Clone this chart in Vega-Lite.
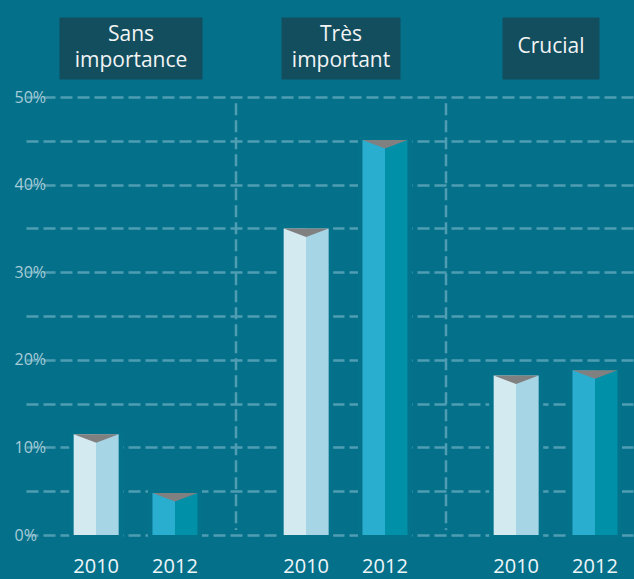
{
  "$schema": "https://vega.github.io/schema/vega-lite/v6.json",
  "width": 574,
  "height": 438,
  "autosize": {"type": "none"},
  "padding": {"left": 60, "top": 97, "right": 0, "bottom": 44},
  "background": "#05708a",
  "config": {"view": {"stroke": null}, "font": "Open Sans"},
  "data": {
    "values": [
      {"group": "Sans importance", "year": "2010", "value": 11.5},
      {"group": "Sans importance", "year": "2012", "value": 4.8},
      {"group": "Très important", "year": "2010", "value": 35.0},
      {"group": "Très important", "year": "2012", "value": 45.1},
      {"group": "Crucial", "year": "2010", "value": 18.2},
      {"group": "Crucial", "year": "2012", "value": 18.8}
    ]
  },
  "layer": [
    {
      "data": {"values": [{"group": "Très important"}, {"group": "Crucial"}]},
      "mark": {"type": "rule", "color": "#4f9db2", "strokeWidth": 2.5, "strokeDash": [12, 5]},
      "encoding": {
        "x": {"field": "group", "type": "nominal", "bandPosition": 0, "axis": null,
          "scale": {"domain": ["Sans importance", "Très important", "Crucial"], "range": [-34, 596], "paddingInner": 0, "paddingOuter": 0}},
        "y": {"datum": 49.3, "type": "quantitative"},
        "y2": {"datum": 0.57}
      }
    },
    {
      "mark": {"type": "bar", "fill": "#04728b", "stroke": "#04728b", "strokeWidth": 9},
      "encoding": {
        "x": {"field": "group", "type": "nominal", "axis": null},
        "xOffset": {"field": "year", "type": "nominal",
          "scale": {"domain": ["2010", "2012"], "paddingInner": 0.429, "paddingOuter": 0.547, "align": 0.553}},
        "y": {"field": "value", "type": "quantitative", "title": null,
          "scale": {"domain": [0, 50], "nice": false},
          "axis": {
            "values": [0, 5, 10, 15, 20, 25, 30, 35, 40, 45, 50],
            "labelExpr": "datum.value % 10 === 0 ? datum.value + '%' : ''",
            "grid": true, "gridColor": "#4f9db2", "gridWidth": 2.5, "gridDash": [12, 5],
            "domain": false, "ticks": false, "tickSize": 0,
            "labelAlign": "left", "labelPadding": 46, "labelFontSize": 16,
            "labelColor": "#a7cdd8", "labelFont": "Open Sans", "title": null
          }}
      }
    },
    {
      "transform": [{"filter": "datum.year === '2010'"}],
      "mark": {"type": "bar", "fill": {"gradient": "linear", "x1": 0, "x2": 1, "y1": 0, "y2": 0,
        "stops": [{"offset": 0, "color": "#d4eaf1"}, {"offset": 0.5, "color": "#d4eaf1"}, {"offset": 0.5, "color": "#a6d5e5"}, {"offset": 1, "color": "#a6d5e5"}]}},
      "encoding": {
        "x": {"field": "group", "type": "nominal", "axis": null},
        "xOffset": {"field": "year", "type": "nominal"},
        "y": {"field": "value", "type": "quantitative", "title": null}
      }
    },
    {
      "transform": [{"filter": "datum.year === '2012'"}],
      "mark": {"type": "bar", "fill": {"gradient": "linear", "x1": 0, "x2": 1, "y1": 0, "y2": 0,
        "stops": [{"offset": 0, "color": "#2aaed0"}, {"offset": 0.5, "color": "#2aaed0"}, {"offset": 0.5, "color": "#0090a8"}, {"offset": 1, "color": "#0090a8"}]}},
      "encoding": {
        "x": {"field": "group", "type": "nominal", "axis": null},
        "xOffset": {"field": "year", "type": "nominal"},
        "y": {"field": "value", "type": "quantitative", "title": null}
      }
    },
    {
      "mark": {"type": "point", "shape": "M -1 0 L 1 0 L 0 0.38 Z", "size": 2025, "filled": true, "fill": "#808080", "opacity": 1, "strokeWidth": 0},
      "encoding": {
        "x": {"field": "group", "type": "nominal", "axis": null},
        "xOffset": {"field": "year", "type": "nominal"},
        "y": {"field": "value", "type": "quantitative", "title": null}
      }
    },
    {
      "mark": {"type": "text", "fontSize": 20, "color": "#eef6f9", "baseline": "alphabetic", "align": "center", "font": "Open Sans"},
      "encoding": {
        "x": {"field": "group", "type": "nominal", "axis": null},
        "xOffset": {"field": "year", "type": "nominal"},
        "y": {"datum": -4.34, "type": "quantitative"},
        "text": {"field": "year", "type": "nominal"}
      }
    },
    {
      "data": {"values": [{"group": "Sans importance"}, {"group": "Très important"}, {"group": "Crucial"}]},
      "mark": {"type": "bar", "fill": "#124e5e"},
      "encoding": {
        "x": {"field": "group", "type": "nominal", "axis": null},
        "y": {"datum": 52.0, "type": "quantitative"},
        "y2": {"datum": 59.08},
        "size": {"condition": [{"test": "datum.group === 'Sans importance'", "value": 143}, {"test": "datum.group === 'Très important'", "value": 119}], "value": 97}
      }
    },
    {
      "data": {"values": [{"group": "Sans importance"}, {"group": "Très important"}]},
      "mark": {"type": "text", "fontSize": 21, "color": "#f2f4f5", "lineBreak": " ", "lineHeight": 26, "baseline": "middle", "align": "center", "font": "Open Sans"},
      "encoding": {
        "x": {"field": "group", "type": "nominal", "axis": null},
        "y": {"datum": 57.1, "type": "quantitative"},
        "text": {"field": "group", "type": "nominal"}
      }
    },
    {
      "data": {"values": [{"group": "Crucial"}]},
      "mark": {"type": "text", "fontSize": 21, "color": "#f2f4f5", "baseline": "middle", "align": "center", "font": "Open Sans"},
      "encoding": {
        "x": {"field": "group", "type": "nominal", "axis": null},
        "y": {"datum": 55.67, "type": "quantitative"},
        "text": {"field": "group", "type": "nominal"}
      }
    }
  ]
}
